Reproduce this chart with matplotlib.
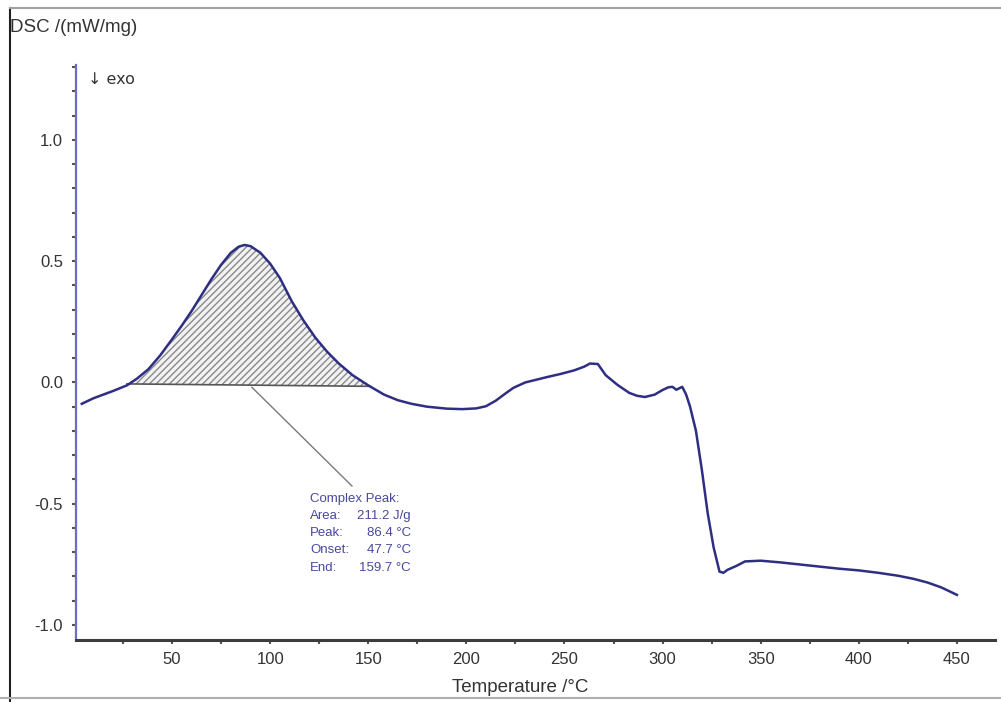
import matplotlib.pyplot as plt
from matplotlib.lines import Line2D
from matplotlib.ticker import MultipleLocator, FixedLocator

plt.rcParams['axes.unicode_minus'] = False
plt.rcParams['font.family'] = ['Liberation Sans Narrow', 'Liberation Sans', 'DejaVu Sans']

# DSC trace, temperature in degC and heat flow in mW/mg
temperature = [4, 10, 15, 20, 27, 32, 38, 44, 50, 55, 60, 65, 70, 75, 80, 84, 87,
               90, 95, 100, 105, 111, 117, 123, 129, 135, 142, 150, 158, 165, 172,
               180, 190, 198, 205, 210, 215, 220, 224, 230, 235, 241, 248, 255,
               260, 263, 267, 271, 277, 283, 287, 291, 296, 300, 303, 305, 307,
               309, 310, 312, 314, 317, 320, 323, 326, 329, 331, 333, 338, 342,
               350, 360, 375, 390, 400, 410, 420, 428, 435, 442, 450]
dsc = [-0.088, -0.065, -0.05, -0.035, -0.012, 0.015, 0.055, 0.112, 0.178, 0.235,
       0.295, 0.36, 0.425, 0.485, 0.535, 0.56, 0.567, 0.562, 0.535, 0.49, 0.43,
       0.335, 0.255, 0.185, 0.127, 0.078, 0.03, -0.012, -0.05, -0.073, -0.088,
       -0.1, -0.108, -0.11, -0.107, -0.098, -0.075, -0.045, -0.022, 0.0, 0.01,
       0.022, 0.035, 0.05, 0.065, 0.078, 0.076, 0.03, -0.01, -0.043, -0.055,
       -0.06, -0.05, -0.031, -0.02, -0.018, -0.03, -0.022, -0.018, -0.05, -0.1,
       -0.2, -0.36, -0.54, -0.68, -0.78, -0.785, -0.773, -0.755, -0.738, -0.735,
       -0.742, -0.755, -0.768, -0.775, -0.785, -0.797, -0.81, -0.825, -0.845,
       -0.876]

# integration limits of the complex peak and its baseline
base_t = [27, 151]
base_y = [-0.006, -0.016]

peak_labels = ['Area:', 'Peak:', 'Onset:', 'End:']
peak_values = ['211.2 J/g', '86.4 \u00b0C', '47.7 \u00b0C', '159.7 \u00b0C']

curve_color = '#2e2e82'
text_color = '#4848a0'

fig = plt.figure(figsize=(10.01, 7.02), dpi=100)
ax = fig.add_axes([75.5 / 1001, 1 - 640 / 702, 919.5 / 1001, 575 / 702])

# hatched area between the trace and the linear baseline
seg_t = [t for t in temperature if base_t[0] <= t <= base_t[1]]
seg_y = [y for t, y in zip(temperature, dsc) if base_t[0] <= t <= base_t[1]]
seg_t = [base_t[0]] + seg_t + [base_t[1]]
seg_y = [base_y[0]] + seg_y + [base_y[1]]
base_line = [base_y[0] + (base_y[1] - base_y[0]) * (t - base_t[0]) / (base_t[1] - base_t[0])
             for t in seg_t]
plt.rcParams['hatch.color'] = '#8a8a8a'
plt.rcParams['hatch.linewidth'] = 1.0
ax.fill_between(seg_t, base_line, seg_y, facecolor='#f2f2f2', edgecolor='#8a8a8a',
                hatch='/////', linewidth=0)
ax.plot(base_t, base_y, color='#555555', lw=1.2)

ax.plot(temperature, dsc, color=curve_color, lw=1.8, solid_joinstyle='round')

# leader line from the peak area to its description
ax.plot([90.7, 141.7], [-0.02, -0.427], color='#7a7a7a', lw=1.0)
ax.text(120.3, -0.48, 'Complex Peak:', color=text_color, fontsize=9.5, va='center')
for i, (lab, val) in enumerate(zip(peak_labels, peak_values)):
    y = -0.48 - (i + 1) * 0.0709
    ax.text(120.3, y, lab, color=text_color, fontsize=9.5, va='center')
    ax.text(171.8, y, val, color=text_color, fontsize=9.5, va='center', ha='right')

ax.set_xlim(0.8, 469.4)
ax.set_ylim(-1.062, 1.309)

ax.spines['top'].set_visible(False)
ax.spines['right'].set_visible(False)
ax.spines['left'].set_color('#6c6cc0')
ax.spines['left'].set_linewidth(1.6)
ax.spines['bottom'].set_color('#3c3c3c')
ax.spines['bottom'].set_linewidth(2.2)

ax.xaxis.set_major_locator(FixedLocator([50, 100, 150, 200, 250, 300, 350, 400, 450]))
ax.xaxis.set_minor_locator(FixedLocator([25, 75, 125, 175, 225, 275, 325, 375, 425]))
ax.yaxis.set_major_locator(FixedLocator([-1.0, -0.5, 0.0, 0.5, 1.0]))
ax.yaxis.set_minor_locator(MultipleLocator(0.1))
ax.set_yticklabels(['-1.0', '-0.5', '0.0', '0.5', '1.0'])
ax.tick_params(which='both', direction='out', length=3, width=1.5, color='#555555')
ax.tick_params(axis='x', labelsize=12, pad=6, labelcolor='#333333')
ax.tick_params(axis='y', labelsize=12, pad=6, labelcolor='#333333')

fig.text(10 / 1001, 1 - 27 / 702, 'DSC /(mW/mg)', fontsize=13.5, color='#333333',
         va='center', ha='left')
fig.text(88 / 1001, 1 - 79 / 702, '\u2193 exo', fontsize=11.5, color='#333333',
         va='center', ha='left', family=['DejaVu Sans'])
fig.text(520 / 1001, 1 - 688 / 702, 'Temperature /\u00b0C', fontsize=13.5,
         color='#333333', va='center', ha='center')

# window frame around the plot
fig.add_artist(Line2D([10 / 1001, 10 / 1001], [0, 1 - 8 / 702], transform=fig.transFigure,
                      color='#202020', lw=1.5))
fig.add_artist(Line2D([10 / 1001, 1], [1 - 8 / 702, 1 - 8 / 702], transform=fig.transFigure,
                      color='#a0a0a0', lw=1.5))
fig.add_artist(Line2D([0, 1], [1 - 698 / 702, 1 - 698 / 702], transform=fig.transFigure,
                      color='#b0b0b0', lw=1.5))

fig.savefig('out.png', dpi=100)
